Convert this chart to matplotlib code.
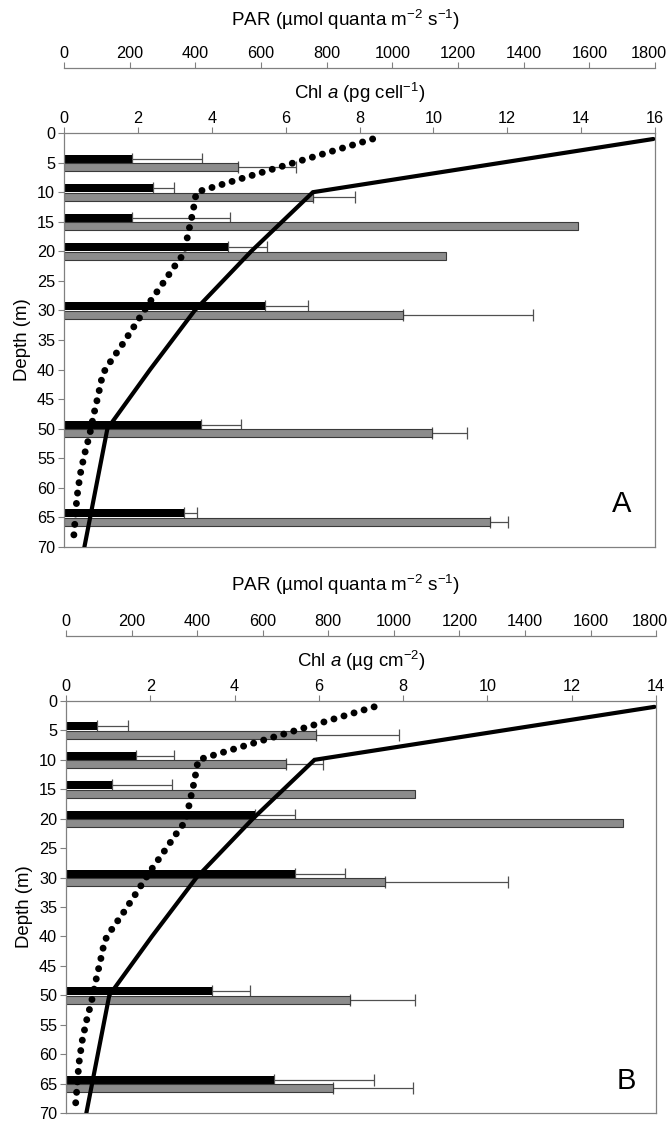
import numpy as np
import matplotlib.pyplot as plt
from matplotlib.transforms import ScaledTranslation

plt.rcParams['font.family'] = ['Liberation Sans', 'DejaVu Sans']
plt.rcParams['mathtext.fontset'] = 'custom'
plt.rcParams['mathtext.rm'] = 'Liberation Sans'
plt.rcParams['mathtext.it'] = 'Liberation Sans:italic'

# sampling depths (m) for the bars
depths = np.array([5, 10, 15, 20, 30, 50, 65])

# panel A, Chl a (pg cell-1)
a_black = [1.83, 2.41, 1.83, 4.43, 5.44, 3.70, 3.24]
a_black_err = [1.91, 0.58, 2.66, 1.07, 1.17, 1.08, 0.35]
a_grey = [4.72, 6.75, 13.92, 10.34, 9.19, 9.95, 11.52]
a_grey_err = [1.56, 1.13, 0, 0, 3.52, 0.96, 0.49]

# panel B, Chl a (ug cm-2)
b_black = [0.74, 1.65, 1.09, 4.49, 5.43, 3.47, 4.94]
b_black_err = [0.73, 0.92, 1.42, 0.94, 1.18, 0.89, 2.36]
b_grey = [5.93, 5.22, 8.29, 13.21, 7.58, 6.73, 6.34]
b_grey_err = [1.98, 0.87, 0, 0, 2.90, 1.54, 1.90]

# PAR profiles (umol quanta m-2 s-1), same in both panels
par_depth = [1, 10, 20, 30, 40, 50, 70]
par_solid = [1795, 758, 570, 398, 262, 132, 62]
dot_depth = [1, 10, 13.5, 17, 20.4, 22.1, 25.5, 28.9, 32.3, 35.8, 39, 40.7,
             44.1, 47.5, 51, 54.4, 57.8, 61.7, 65.3, 68.6]
dot_par = [940, 403, 392, 378, 365, 342, 300, 257, 218, 177, 137, 118,
           105, 91, 78, 62, 49, 39, 34, 29]

GREY = '#808080'
fig = plt.figure(figsize=(6.67, 11.21), dpi=100)


def panel(rect, black, black_err, grey, grey_err, chl_max, chl_label, letter,
          letter_xy, par_label_y):
    ax = fig.add_axes(rect)
    ax.set_xlim(0, chl_max)
    ax.set_ylim(70, 0)

    ax.barh(depths - 0.68, black, height=1.35, color='black', zorder=2)
    ax.barh(depths + 0.78, grey, height=1.35, color='#8c8c8c',
            edgecolor='#3a3a3a', linewidth=0.8, zorder=2)
    for off, vals, errs in [(-0.68, black, black_err), (0.78, grey, grey_err)]:
        vals = np.array(vals)
        errs = np.array(errs)
        m = errs > 0
        ax.errorbar(vals[m], depths[m] + off, xerr=[np.zeros(m.sum()), errs[m]],
                    fmt='none', ecolor='#505050', elinewidth=0.9, capsize=4,
                    capthick=0.9, zorder=1)
    ax.text(letter_xy[0], letter_xy[1], letter, fontsize=21, ha='center', va='center')

    par = ax.twiny()
    par.set_xlim(0, 1800)
    par.set_ylim(70, 0)
    par.plot(par_solid, par_depth, color='black', lw=3.0, solid_capstyle='round',
             solid_joinstyle='miter', zorder=3)
    ln, = par.plot(dot_par, dot_depth, color='black', lw=5, zorder=3)
    ln.set_dashes([0.01, 1.5])
    ln.set_dash_capstyle('round')
    par.set_xticks(np.arange(0, 1801, 200))
    par.tick_params(colors=GREY, labelcolor='black', labelsize=11.7, length=4.3,
                    width=0.8, pad=0.8)
    for k in ['left', 'right', 'bottom']:
        par.spines[k].set_visible(False)
    par.spines['top'].set_position(('outward', 47))
    par.spines['top'].set_color(GREY)
    par.spines['top'].set_linewidth(0.9)
    last = par.get_xticklabels()[-1]
    last.set_transform(last.get_transform() + ScaledTranslation(-6 / 100, 0, fig.dpi_scale_trans))
    fig.text(345 / 667, par_label_y, 'PAR (µmol quanta m$^{-2}$ s$^{-1}$)',
             fontsize=13.6, ha='center', va='center')

    # chl axis on top of the main frame (twiny resets it to the bottom)
    ax.xaxis.tick_top()
    ax.xaxis.set_label_position('top')
    ax.set_xticks(np.arange(0, chl_max + 1, 2))
    ax.set_yticks(np.arange(0, 71, 5))
    ax.set_xlabel(chl_label, fontsize=13.4, labelpad=9)
    ax.set_ylabel('Depth (m)', fontsize=13.4, labelpad=4)
    ax.tick_params(colors=GREY, labelcolor='black', labelsize=11.7, length=4,
                   width=0.8, pad=0.8)
    ax.tick_params(axis='y', pad=2.5)
    for s in ax.spines.values():
        s.set_color(GREY)
        s.set_linewidth(0.9)
    return ax


panel([0.096, 0.512, 0.886, 0.3693], a_black, a_black_err, a_grey, a_grey_err,
      16, 'Chl $a$ (pg cell$^{-1}$)', 'A', (15.1, 62.7), 1 - 20 / 1121)
panel([0.099, 0.0071, 0.8846, 0.3676], b_black, b_black_err, b_grey, b_grey_err,
      14, 'Chl $a$ (µg cm$^{-2}$)', 'B', (13.3, 64.5), 1 - 585 / 1121)

fig.savefig('out.png', dpi=100)
